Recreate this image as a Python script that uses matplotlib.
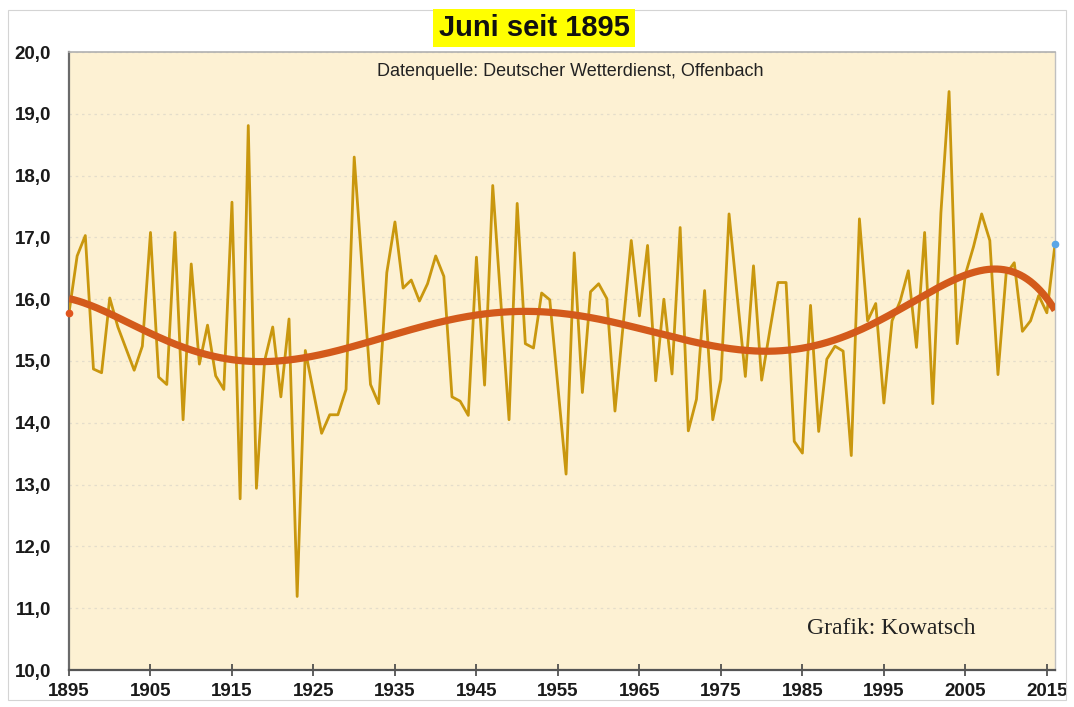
import numpy as np
import matplotlib
matplotlib.use("Agg")
import matplotlib.pyplot as plt
from matplotlib.patches import Rectangle
from matplotlib.ticker import FuncFormatter

# ---------------- data ----------------
years = list(range(1895, 2017))
temps = [
    15.78, 16.70, 17.03, 14.87, 14.81, 16.02, 15.55, 15.20, 14.85, 15.24,  # 1895-1904
    17.08, 14.74, 14.62, 17.08, 14.05, 16.57, 14.95, 15.58, 14.76, 14.54,  # 1905-1914
    17.57, 12.77, 18.81, 12.94, 15.00, 15.55, 14.42, 15.68, 11.19, 15.17,  # 1915-1924
    14.50, 13.83, 14.13, 14.13, 14.54, 18.30, 16.45, 14.62, 14.31, 16.43,  # 1925-1934
    17.25, 16.18, 16.31, 15.97, 16.25, 16.70, 16.37, 14.42, 14.35, 14.12,  # 1935-1944
    16.68, 14.61, 17.84, 15.95, 14.05, 17.55, 15.28, 15.21, 16.10, 15.99,  # 1945-1954
    14.58, 13.17, 16.75, 14.49, 16.12, 16.25, 16.01, 14.19, 15.58, 16.95,  # 1955-1964
    15.73, 16.87, 14.68, 16.00, 14.79, 17.16, 13.87, 14.38, 16.14, 14.05,  # 1965-1974
    14.70, 17.38, 16.05, 14.75, 16.54, 14.69, 15.49, 16.27, 16.27, 13.70,  # 1975-1984
    13.51, 15.90, 13.86, 15.03, 15.24, 15.16, 13.47, 17.30, 15.65, 15.93,  # 1985-1994
    14.32, 15.65, 15.97, 16.46, 15.22, 17.08, 14.31, 17.40, 19.36, 15.28,  # 1995-2004
    16.40, 16.85, 17.38, 16.95, 14.78, 16.41, 16.59, 15.48, 15.65, 16.06,  # 2005-2014
    15.78, 16.89,                                                          # 2015-2016
]
x_ticks = list(range(1895, 2016, 10))
y_ticks = list(range(10, 21))
title_text = "Juni seit 1895"
source_text = "Datenquelle: Deutscher Wetterdienst, Offenbach"
credit_text = "Grafik: Kowatsch"

plt.rcParams["font.family"] = ["Liberation Sans", "DejaVu Sans"]

# ---------------- figure ----------------
W, H = 1074, 707
fig = plt.figure(figsize=(W / 100, H / 100), dpi=100)
fig.patch.set_facecolor("white")
fig.patches.append(Rectangle((8 / W, 1 - 700 / H), (1066 - 8) / W, (700 - 10) / H,
                             transform=fig.transFigure, fill=False,
                             edgecolor="#d4d4d4", lw=0.8, zorder=0))

ax = fig.add_axes([69 / W, 1 - 670 / H, (1055 - 69) / W, (670 - 52) / H])
ax.set_facecolor("#FDF1D3")

x = np.array(years, dtype=float)
y = np.array(temps, dtype=float)

# polynomial trend (6th order, as in the spreadsheet trendline)
xc = (x - x.mean()) / (x.max() - x.min())
coef = np.polyfit(xc, y, 6)
xf = np.linspace(x.min(), x.max(), 600)
yf = np.polyval(coef, (xf - x.mean()) / (x.max() - x.min()))

ax.plot(x, y, color="#C9970E", lw=2.0, zorder=3)
ax.plot(xf, yf, color="#D35A1B", lw=5.2, zorder=4, solid_capstyle="butt")
ax.plot([x[0]], [y[0]], "o", color="#E0551E", ms=4.5, zorder=5, clip_on=False)
ax.plot([x[-1]], [y[-1]], "o", color="#5AA6E6", ms=4.5, zorder=5, clip_on=False)

ax.set_xlim(1895, 2016)
ax.set_ylim(10, 20)
ax.set_xticks(x_ticks)
ax.set_yticks(y_ticks)
ax.yaxis.set_major_formatter(FuncFormatter(lambda v, p: f"{v:.1f}".replace(".", ",")))
ax.grid(axis="y", color="#E4DDCB", lw=0.9, linestyle=(0, (2, 3)), zorder=1)
ax.grid(axis="x", visible=False)

for lab in ax.get_xticklabels() + ax.get_yticklabels():
    lab.set_fontweight("bold")
    lab.set_fontsize(13.5)
    lab.set_color("#1a1a1a")

ax.tick_params(axis="x", direction="inout", length=9, width=1.2, color="#444444", pad=5)
ax.tick_params(axis="y", length=0, pad=13)

ax.spines["left"].set_color("#6a6a6a")
ax.spines["left"].set_linewidth(1.6)
ax.spines["bottom"].set_color("#555555")
ax.spines["bottom"].set_linewidth(1.6)
ax.spines["top"].set_color("#b0b0b0")
ax.spines["top"].set_linewidth(1.2)
ax.spines["right"].set_color("#c0c0c0")
ax.spines["right"].set_linewidth(1.0)

# title
fig.text(534 / W, 1 - 28 / H, title_text, ha="center", va="center",
         fontsize=21, fontweight="bold", color="#111111",
         bbox=dict(boxstyle="square,pad=0.18", facecolor="#FFFF00", edgecolor="none"))

# source text
fig.text(570 / W, 1 - 72 / H, source_text, ha="center", va="center",
         fontsize=13, color="#222222")

# credit
fig.text(891 / W, 1 - 628 / H, credit_text, ha="center", va="center",
         fontsize=17, color="#222222", family=["Liberation Serif", "DejaVu Serif"])

fig.savefig("out.png", dpi=100, facecolor="white")
